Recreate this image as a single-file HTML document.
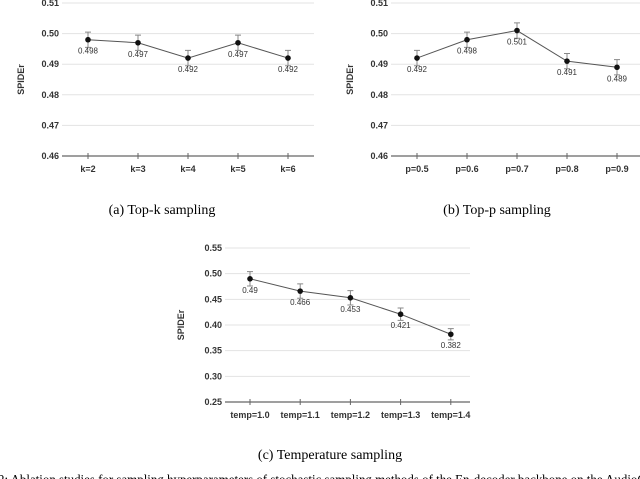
<!DOCTYPE html>
<html><head><meta charset="utf-8"><style>
html,body{margin:0;padding:0;background:#fff;width:640px;height:479px;overflow:hidden}
svg{display:block}
.tk{font-family:"Liberation Sans",sans-serif;font-size:9px;font-weight:bold;fill:#333}
.vl{font-family:"Liberation Sans",sans-serif;font-size:8px;fill:#333}
.cap{font-family:"Liberation Serif",serif;font-size:14px;fill:#000}
</style></head><body>
<svg id="fig" width="640" height="479">
<text class="cap" x="162" y="214" text-anchor="middle">(a)  Top-k sampling</text>
<text class="cap" x="497" y="214" text-anchor="middle">(b)  Top-p sampling</text>
<text class="cap" x="330" y="459" text-anchor="middle">(c)  Temperature sampling</text>
<text class="cap" x="-2" y="484" textLength="648" lengthAdjust="spacingAndGlyphs">2: Ablation studies for sampling hyperparameters of stochastic sampling methods of the En-decoder backbone on the AudioC</text>
</svg>
<script>
const catsA=["k=2","k=3","k=4","k=5","k=6"];
const valsA=[0.498,0.497,0.492,0.497,0.492];
const errA=[0.0025,0.0025,0.0025,0.0025,0.0025];
const ticksA=[0.46,0.47,0.48,0.49,0.50,0.51];
const catsB=["p=0.5","p=0.6","p=0.7","p=0.8","p=0.9"];
const valsB=[0.492,0.498,0.501,0.491,0.489];
const errB=[0.0025,0.0025,0.0025,0.0025,0.0025];
const ticksB=[0.46,0.47,0.48,0.49,0.50,0.51];
const catsC=["temp=1.0","temp=1.1","temp=1.2","temp=1.3","temp=1.4"];
const valsC=[0.49,0.466,0.453,0.421,0.382];
const errC=[0.014,0.014,0.014,0.012,0.011];
const ticksC=[0.25,0.30,0.35,0.40,0.45,0.50,0.55];
const labelsA=["0.498","0.497","0.492","0.497","0.492"];
const labelsB=["0.492","0.498","0.501","0.491","0.489"];
const labelsC=["0.49","0.466","0.453","0.421","0.382"];

const NS="http://www.w3.org/2000/svg";
const svg=document.getElementById('fig');
function mk(t,a,p){const e=document.createElementNS(NS,t);for(const k in a)e.setAttribute(k,a[k]);(p||svg).appendChild(e);return e;}

function chart(id,cfg,cats,vals,errs,ticks,labels){
  const g=mk('g',{});
  
  
  const {x0,x1,yTop,yBot,c0,step,ylx}=cfg;
  const lo=ticks[0],hi=ticks[ticks.length-1];
  const y=v=>yBot-(v-lo)/(hi-lo)*(yBot-yTop);
  const x=i=>c0+i*step;
  ticks.forEach((t,i)=>{
    const l=mk('line',{x1:x0,x2:x1,y1:y(t),y2:y(t),stroke:i===0?'#666':'#e3e3e3','stroke-width':i===0?1.2:1},g);
    
    
    const tx=mk('text',{x:x0-3,y:y(t)+3,'text-anchor':'end',class:'tk'},g);
    tx.textContent=t.toFixed(2);
    
    
  });
  const yt=mk('text',{x:ylx,y:(yTop+yBot)/2,'text-anchor':'middle',class:'tk',transform:`rotate(-90 ${ylx} ${(yTop+yBot)/2})`},g);
  yt.textContent='SPIDEr';
  
  
  cats.forEach((c,i)=>{
    const tl=mk('line',{x1:x(i),x2:x(i),y1:yBot-3,y2:yBot+3,stroke:'#666'},g);
    
    
    const tx=mk('text',{x:x(i),y:yBot+16,'text-anchor':'middle',class:'tk'},g);
    tx.textContent=c;
    
    
  });
  const pts=vals.map((v,i)=>x(i)+','+y(v)).join(' ');
  const pl=mk('polyline',{points:pts,fill:'none',stroke:'#555','stroke-width':1},g);
  
  
  vals.forEach((v,i)=>{
    const a=y(v+errs[i]),b=y(v-errs[i]);
    const eb=mk('path',{d:`M${x(i)-3},${a}H${x(i)+3}M${x(i)},${a}V${b}M${x(i)-3},${b}H${x(i)+3}`,stroke:'#888',fill:'none','stroke-width':1},g);
    
    
    const c=mk('circle',{cx:x(i),cy:y(v),r:2.8,fill:'#111'},g);
    
    
    const t=mk('text',{x:x(i),y:y(v)+14,'text-anchor':'middle',class:'vl'},g);
    t.textContent=labels[i];
    
    
  });
}
chart('chart-top-k',{x0:62,x1:314,yTop:3,yBot:156,c0:88,step:50,ylx:24},catsA,valsA,errA,ticksA,labelsA);
chart('chart-top-p',{x0:391,x1:640,yTop:3,yBot:156,c0:417,step:50,ylx:353},catsB,valsB,errB,ticksB,labelsB);
chart('chart-temperature',{x0:225,x1:470,yTop:248,yBot:402,c0:250,step:50.2,ylx:184},catsC,valsC,errC,ticksC,labelsC);
</script>
</body></html>
